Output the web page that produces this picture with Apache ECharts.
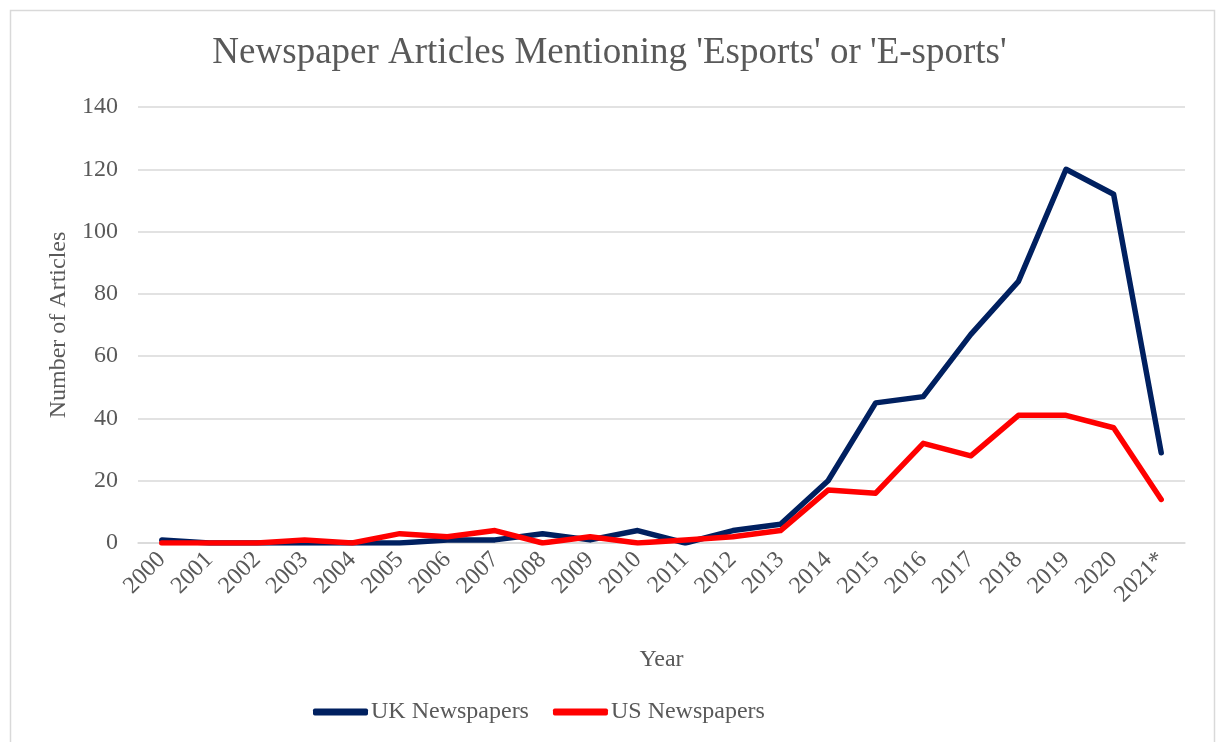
<!DOCTYPE html>
<html>
<head>
<meta charset="utf-8">
<script src="https://cdn.jsdelivr.net/npm/echarts@6/dist/echarts.min.js"></script>
<style>
html,body{margin:0;padding:0;background:#fff;}
#chart{width:1219px;height:742px;}
</style>
</head>
<body>
<div id="chart"></div>
<script>
const years = ['2000','2001','2002','2003','2004','2005','2006','2007','2008','2009','2010','2011','2012','2013','2014','2015','2016','2017','2018','2019','2020','2021*'];
const ukValues = [1,0,0,0,0,0,1,1,3,1,4,0,4,6,20,45,47,67,84,120,112,29];
const usValues = [0,0,0,1,0,3,2,4,0,2,0,1,2,4,17,16,32,28,41,41,37,14];
const yTicks = {min:0, max:140, interval:20};

const font = '"Liberation Serif", "Times New Roman", serif';
const txt = '#595959';
const chart = echarts.init(document.getElementById('chart'));
chart.setOption({
  animation:false,
  backgroundColor:'#fff',
  graphic:[{type:'rect', shape:{x:10.5,y:10.5,width:1204,height:745}, style:{fill:'none', stroke:'#d9d9d9', lineWidth:1.5}, silent:true}],
  title:{text:"Newspaper Articles Mentioning 'Esports' or 'E-sports'", left:'center', top:30,
    textStyle:{fontFamily:font, fontSize:37, fontWeight:'normal', color:txt}},
  grid:{left:138, right:34, top:107, bottom:199},
  legend:{top:695, left:308, itemWidth:55, itemHeight:7, itemGap:24, icon:'roundRect',
    textStyle:{fontFamily:font, fontSize:24, color:txt, padding:[0,0,0,-2]}},
  xAxis:{type:'category', data:years, boundaryGap:true,
    name:'Year', nameLocation:'middle', nameGap:105,
    nameTextStyle:{fontFamily:font, fontSize:24, color:txt},
    axisLine:{lineStyle:{color:'#d9d9d9', width:1.5}}, axisTick:{show:false},
    axisLabel:{rotate:45, interval:0, margin:13, fontFamily:font, fontSize:24, color:txt}},
  yAxis:{type:'value', min:yTicks.min, max:yTicks.max, interval:yTicks.interval,
    name:'Number of Articles', nameLocation:'middle', nameGap:61,
    nameTextStyle:{fontFamily:font, fontSize:24, color:txt},
    axisLine:{show:false}, axisTick:{show:false},
    splitLine:{lineStyle:{color:'#d9d9d9', width:1.5}},
    axisLabel:{margin:20, fontFamily:font, fontSize:24, color:txt}},
  series:[
    {name:'UK Newspapers', type:'line', data:ukValues, symbol:'none', color:'#002060',
      lineStyle:{width:5.5, color:'#002060', cap:'round', join:'round'}},
    {name:'US Newspapers', type:'line', data:usValues, symbol:'none', color:'#ff0000',
      lineStyle:{width:5.5, color:'#ff0000', cap:'round', join:'round'}}
  ]
});
</script>
</body>
</html>
